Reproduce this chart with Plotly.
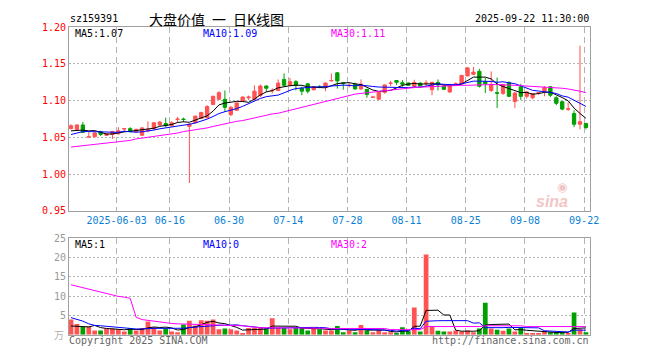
import plotly.graph_objects as go
import pandas as pd

W, H = 660, 360

# ---------------- data (88 trading days, 2025-05-21 .. 2025-09-22) ----------------
opens = [1.062, 1.061, 1.067, 1.0505, 1.051, 1.058, 1.053, 1.054, 1.055, 1.0615,
         1.062, 1.058, 1.053, 1.059, 1.062, 1.067, 1.069, 1.066, 1.0745, 1.075,
         1.065, 1.070, 1.076, 1.077, 1.095, 1.102, 1.102, 1.081, 1.087, 1.0995,
         1.104, 1.102, 1.107, 1.120, 1.1135, 1.114, 1.129, 1.121, 1.126, 1.117,
         1.123, 1.115, 1.1195, 1.119, 1.127, 1.138, 1.1245, 1.1205, 1.1225, 1.116,
         1.1155, 1.1045, 1.102, 1.1115, 1.1235, 1.1275, 1.1245, 1.124, 1.1197, 1.124,
         1.1235, 1.115, 1.125, 1.1197, 1.112, 1.1225, 1.1228, 1.1338, 1.136, 1.140,
         1.126, 1.114, 1.111, 1.110, 1.125, 1.099, 1.119, 1.106, 1.104, 1.1105,
         1.113, 1.119, 1.104, 1.0987, 1.0885, 1.0825, 1.068, 1.069]
highs = [1.068, 1.068, 1.071, 1.058, 1.058, 1.059, 1.056, 1.059, 1.064, 1.063,
         1.064, 1.062, 1.064, 1.072, 1.071, 1.072, 1.077, 1.072, 1.078, 1.077,
         1.070, 1.080, 1.085, 1.094, 1.107, 1.113, 1.114, 1.093, 1.098, 1.106,
         1.107, 1.121, 1.122, 1.121, 1.117, 1.129, 1.137, 1.131, 1.128, 1.119,
         1.124, 1.120, 1.121, 1.125, 1.137, 1.139, 1.125, 1.124, 1.1245, 1.129,
         1.116, 1.106, 1.112, 1.122, 1.127, 1.128, 1.128, 1.125, 1.1285, 1.125,
         1.128, 1.126, 1.129, 1.121, 1.120, 1.125, 1.135, 1.146, 1.146, 1.1434,
         1.131, 1.140, 1.1316, 1.123, 1.126, 1.112, 1.123, 1.113, 1.110, 1.112,
         1.120, 1.120, 1.106, 1.099, 1.098, 1.087, 1.175, 1.070]
lows = [1.061, 1.059, 1.056, 1.050, 1.050, 1.052, 1.052, 1.048, 1.054, 1.058,
        1.057, 1.056, 1.052, 1.057, 1.060, 1.066, 1.064, 1.065, 1.070, 1.071,
        0.988, 1.069, 1.075, 1.076, 1.094, 1.101, 1.085, 1.079, 1.086, 1.099,
        1.101, 1.101, 1.105, 1.112, 1.110, 1.113, 1.119, 1.120, 1.114, 1.1075,
        1.110, 1.114, 1.117, 1.113, 1.127, 1.1165, 1.115, 1.118, 1.115, 1.115,
        1.104, 1.104, 1.101, 1.1095, 1.120, 1.1215, 1.119, 1.120, 1.117, 1.119,
        1.119, 1.1075, 1.114, 1.115, 1.1105, 1.121, 1.122, 1.133, 1.135, 1.118,
        1.1105, 1.112, 1.090, 1.108, 1.105, 1.090, 1.101, 1.103, 1.102, 1.108,
        1.106, 1.105, 1.094, 1.087, 1.086, 1.064, 1.061, 1.061]
closes = [1.066, 1.067, 1.057, 1.051, 1.056, 1.054, 1.055, 1.058, 1.059, 1.062,
          1.058, 1.061, 1.063, 1.061, 1.070, 1.071, 1.066, 1.070, 1.075, 1.0745,
          1.068, 1.079, 1.084, 1.092, 1.106, 1.111, 1.091, 1.091, 1.097, 1.105,
          1.105, 1.113, 1.120, 1.117, 1.114, 1.124, 1.121, 1.126, 1.121, 1.113,
          1.113, 1.119, 1.119, 1.124, 1.1275, 1.127, 1.1235, 1.121, 1.116, 1.1225,
          1.1085, 1.105, 1.1115, 1.1215, 1.124, 1.125, 1.1225, 1.121, 1.125, 1.120,
          1.124, 1.125, 1.1215, 1.1155, 1.1197, 1.123, 1.1345, 1.1447, 1.139, 1.1197,
          1.123, 1.122, 1.1103, 1.122, 1.106, 1.1105, 1.106, 1.112, 1.1096, 1.111,
          1.118, 1.1075, 1.0965, 1.0886, 1.089, 1.068, 1.0715, 1.0636]
# volume in 万
volumes = [3.9, 2.75, 2.1, 2.1, 1.1, 1.1, 1.6, 1.6, 1.25, 0.8,
           1.75, 1.1, 1.75, 3.4, 1.9, 1.1, 1.6, 0.8, 0.6, 2.6,
           3.6, 2.4, 3.75, 3.6, 3.9, 1.4, 1.6, 1.4, 1.1, 0.4,
           1.75, 1.75, 1.75, 1.6, 4.25, 1.75, 1.75, 1.4, 1.75, 1.75,
           1.1, 1.75, 1.4, 1.1, 1.1, 2.25, 0.6, 1.1, 0.6, 2.5,
           1.1, 0.6, 1.25, 0.6, 0.6, 0.4, 1.9, 0.9, 7.0, 0.8,
           20.75, 2.1, 1.0, 0.8, 0.8, 1.1, 0.8, 1.1, 0.6, 1.6,
           8.25, 1.6, 1.25, 1.0, 1.6, 0.8, 1.9, 0.4, 0.4, 0.4,
           0.8, 0.6, 0.6, 0.6, 0.4, 5.75, 1.4, 0.6]

ma5_head = [1.059, 1.060, 1.060, 1.059]
ma10_head = [1.054, 1.056, 1.058, 1.058, 1.058, 1.058, 1.0575, 1.057, 1.057]
ma30 = [1.037, 1.038, 1.038, 1.039, 1.040, 1.041, 1.042, 1.043, 1.044, 1.045,
        1.046, 1.048, 1.049, 1.050, 1.052, 1.053, 1.054, 1.055, 1.056, 1.058,
        1.059, 1.060, 1.062, 1.063, 1.065, 1.067, 1.068, 1.070, 1.072, 1.073,
        1.075, 1.076, 1.078, 1.080, 1.082, 1.083, 1.085, 1.087, 1.090, 1.092,
        1.094, 1.096, 1.098, 1.100, 1.102, 1.104, 1.106, 1.107, 1.109, 1.110,
        1.111, 1.112, 1.113, 1.114, 1.115, 1.116, 1.117, 1.1175, 1.118, 1.1185,
        1.119, 1.1195, 1.120, 1.1205, 1.121, 1.121, 1.121, 1.121, 1.1215, 1.122,
        1.122, 1.122, 1.122, 1.122, 1.1215, 1.121, 1.1205, 1.120, 1.1197, 1.119,
        1.119, 1.119, 1.118, 1.117, 1.116, 1.115, 1.113, 1.111]
vol_ma5_head = [2.25, 2.2, 2.1, 2.0]
vol_ma10_head = [4.4, 4.0, 3.5, 2.8, 2.4, 2.3, 2.2, 2.0, 1.9]
vol_ma30 = [12.9, 12.5, 12.2, 11.9, 11.5, 11.0, 10.6, 10.2, 9.9, 9.7,
            9.4, 4.5, 3.9, 3.7, 3.5, 3.3, 3.0, 2.9, 2.8, 2.75,
            2.7, 2.7, 2.7, 2.7, 2.65, 2.6, 2.55, 2.5, 2.4, 2.3,
            2.1, 1.9, 1.8, 1.8, 1.8, 1.75, 1.75, 1.7, 1.7, 1.7,
            1.7, 1.7, 1.7, 1.65, 1.6, 1.6, 1.6, 1.6, 1.6, 1.6,
            1.6, 1.6, 1.6, 1.6, 1.3, 1.3, 1.3, 1.3, 1.3, 1.3,
            2.1, 2.1, 2.1, 2.1, 2.1, 2.1, 2.1, 2.1, 2.1, 2.1,
            2.3, 2.3, 2.3, 2.3, 2.3, 2.3, 2.3, 2.1, 2.1, 2.1,
            2.1, 2.1, 2.1, 2.1, 2.1, 2.1, 2.1, 2.1]

tick_idx = [8, 17, 27, 37, 47, 57, 67, 77, 87]
tick_labels = ["2025-06-03", "06-16", "06-30", "07-14", "07-28",
               "08-11", "08-25", "09-08", "09-22"]
price_ticks = [0.95, 1.00, 1.05, 1.10, 1.15, 1.20]
vol_ticks = [5, 10, 15, 20, 25]

# ---------------- helpers ----------------
def moving_avg(vals, n, head):
    out = list(pd.Series(vals).rolling(n).mean())
    for k, v in enumerate(head):
        out[k] = v
    return out

ma5 = moving_avg(closes, 5, ma5_head)
ma10 = moving_avg(closes, 10, ma10_head)
vma5 = moving_avg(volumes, 5, vol_ma5_head)
vma10 = moving_avg(volumes, 10, vol_ma10_head)

def px(x):
    return x / W

def py(y):
    return 1 - y / H

RED = "#ff5252"
GREEN = "#00a000"
BLUE_TXT = "#0a7fd6"
BORDER = "#a0a0a0"
GRID = "#b4b4b4"
MONO = "DejaVu Sans Mono"
CJK = "Noto Sans CJK SC"

idx = list(range(len(closes)))
bar_colors = [RED if c >= o else GREEN for o, c in zip(opens, closes)]

X_L, X_R = 70, 598
xrange = [-0.333, len(closes) - 1 + 0.667]
main_dom = [py(212), py(22)]
vol_dom = [py(340), py(240)]

fig = go.Figure()
fig.add_trace(go.Candlestick(
    x=idx, open=opens, high=highs, low=lows, close=closes,
    increasing=dict(line=dict(color=RED, width=1), fillcolor=RED),
    decreasing=dict(line=dict(color=GREEN, width=1), fillcolor=GREEN),
    whiskerwidth=0, hoverinfo="skip", showlegend=False,
    xaxis="x", yaxis="y"))
for vals, col in [(ma5, "#000000"), (ma10, "#0000ff"), (ma30, "#ff00ff")]:
    fig.add_trace(go.Scatter(x=idx, y=vals, mode="lines",
                             line=dict(color=col, width=1),
                             hoverinfo="skip", showlegend=False,
                             xaxis="x", yaxis="y"))

fig.add_trace(go.Bar(x=idx, y=volumes, marker=dict(color=bar_colors, line=dict(width=0)),
                     width=0.8, hoverinfo="skip", showlegend=False,
                     xaxis="x2", yaxis="y2"))
for vals, col in [(vma5, "#000000"), (vma10, "#0000ff"), (vol_ma30, "#ff00ff")]:
    fig.add_trace(go.Scatter(x=idx, y=vals, mode="lines",
                             line=dict(color=col, width=1),
                             hoverinfo="skip", showlegend=False,
                             xaxis="x2", yaxis="y2"))

tickpos = [t - 0.3 for t in tick_idx]
common_x = dict(range=xrange, domain=[px(X_L), px(X_R)], tickvals=tickpos,
                showgrid=True, gridcolor=GRID, gridwidth=1, griddash="6px,4px",
                showline=True, mirror=True, linecolor=BORDER, linewidth=1,
                zeroline=False, ticks="", fixedrange=True)

annotations = []

def txt(x, y, s, color="#000000", size=10, family=MONO, xanchor="left"):
    annotations.append(dict(x=px(x), y=py(y), xref="paper", yref="paper",
                            text=s, showarrow=False, xanchor=xanchor, yanchor="middle",
                            font=dict(family=family, size=size, color=color)))

txt(69, 13, "sz159391")
txt(149, 13, "大盘价值\u2002一\u2002日K线图", size=14, family=CJK)
txt(599, 13, "2025-09-22 11:30:00", xanchor="right")
txt(74, 28, "MA5:1.07")
txt(204, 28, "MA10:1.09", color="#0000ff")
txt(334, 28, "MA30:1.11", color="#ff00ff")
txt(74, 247, "MA5:1")
txt(204, 247, "MA10:0", color="#0000ff")
txt(334, 247, "MA30:2", color="#ff00ff")
txt(68, 346, "Copyright 2025 SINA.COM", color="#666666")
txt(599, 346, "http://finance.sina.com.cn", color="#666666", xanchor="right")
txt(67, 340, "万", color="#b0b0b0", size=10, family=CJK, xanchor="right")
# sina watermark
annotations.append(dict(x=px(578), y=py(202), xref="paper", yref="paper",
                        text="<b><i>sina</i></b>", showarrow=False,
                        font=dict(family="Liberation Sans", size=16, color="#f2c6c6")))
annotations.append(dict(x=px(577), y=py(187), xref="paper", yref="paper",
                        text="◉", showarrow=False,
                        font=dict(family="DejaVu Sans", size=12, color="#f2c6c6")))

fig.update_layout(
    width=W, height=H, autosize=False,
    margin=dict(l=0, r=0, t=0, b=0),
    paper_bgcolor="#ffffff", plot_bgcolor="#ffffff",
    hovermode=False, boxgap=0.2,
    xaxis=dict(common_x, anchor="y", ticktext=tick_labels, showticklabels=True,
               tickfont=dict(family=MONO, size=10, color=BLUE_TXT),
               rangeslider=dict(visible=False)),
    yaxis=dict(domain=main_dom, range=[0.95, 1.20], tickvals=price_ticks,
               ticktext=[f"{v:.2f}" for v in price_ticks],
               tickfont=dict(family=MONO, size=10, color="#ff0000"),
               showgrid=True, gridcolor=GRID, griddash="2px,2px",
               showline=True, mirror=True, linecolor=BORDER, linewidth=1,
               zeroline=False, ticks="", anchor="x", fixedrange=True),
    xaxis2=dict(common_x, anchor="y2", showticklabels=False),
    yaxis2=dict(domain=vol_dom, range=[0, 25], tickvals=vol_ticks,
                ticktext=[str(v) for v in vol_ticks],
                tickfont=dict(family=MONO, size=10, color="#999999"),
                showgrid=True, gridcolor=GRID, griddash="2px,2px",
                showline=True, mirror=True, linecolor=BORDER, linewidth=1,
                zeroline=False, ticks="", anchor="x2", fixedrange=True),
    annotations=annotations,
)

fig.write_html("out.html", config={"displayModeBar": False},
               post_script="document.body.style.margin='0';document.body.style.overflow='hidden';")
